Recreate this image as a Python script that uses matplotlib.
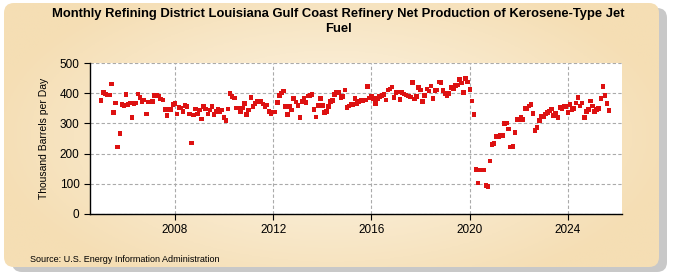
import numpy as np
import matplotlib.pyplot as plt
from matplotlib.patches import FancyBboxPatch

# monthly values, thousand barrels per day
y2005 = [376, 402, 398, 394, 395, 431, 336, 368, 222, 266, 362, 359]
y2006 = [396, 362, 368, 319, 366, 368, 398, 386, 372, 378, 332, 370]
y2007 = [370, 372, 392, 392, 391, 380, 378, 346, 326, 346, 346, 362]
y2008 = [366, 332, 352, 350, 339, 359, 356, 332, 236, 328, 348, 332]
y2009 = [345, 314, 356, 348, 332, 345, 356, 329, 339, 348, 340, 344]
y2010 = [319, 309, 348, 399, 389, 385, 350, 350, 337, 350, 366, 329]
y2011 = [345, 386, 356, 366, 374, 370, 374, 365, 356, 360, 340, 332]
y2012 = [338, 338, 369, 392, 401, 408, 356, 329, 356, 344, 382, 370]
y2013 = [359, 319, 372, 382, 369, 390, 392, 396, 346, 322, 359, 382]
y2014 = [359, 336, 339, 356, 372, 376, 396, 402, 402, 386, 389, 411]
y2015 = [352, 358, 362, 362, 382, 366, 372, 376, 374, 378, 422, 385]
y2016 = [389, 382, 366, 382, 389, 392, 396, 378, 411, 414, 421, 386]
y2017 = [402, 404, 379, 402, 398, 394, 391, 387, 436, 381, 389, 419]
y2018 = [411, 372, 392, 414, 408, 424, 382, 409, 411, 438, 436, 409]
y2019 = [399, 392, 399, 419, 415, 425, 427, 445, 434, 402, 449, 438]
y2020 = [412, 375, 330, 148, 102, 146, 146, 145, 95, 91, 175, 230]
y2021 = [233, 256, 256, 260, 260, 300, 302, 282, 221, 224, 270, 313]
y2022 = [313, 322, 313, 349, 349, 358, 362, 333, 276, 287, 309, 324]
y2023 = [322, 331, 336, 341, 347, 326, 333, 319, 352, 349, 356, 356]
y2024 = [336, 362, 346, 349, 368, 386, 358, 367, 320, 340, 346, 375]
y2025 = [358, 340, 346, 349, 382, 422, 392, 366, 343]

start_year = 2005
values = np.array(y2005 + y2006 + y2007 + y2008 + y2009 + y2010 + y2011 + y2012
                  + y2013 + y2014 + y2015 + y2016 + y2017 + y2018 + y2019 + y2020
                  + y2021 + y2022 + y2023 + y2024 + y2025)
dates = start_year + np.arange(len(values)) / 12.0

year_ticks = [2008, 2012, 2016, 2020, 2024]
y_ticks = [0, 100, 200, 300, 400, 500]

plt.rcParams['font.family'] = ['Liberation Sans', 'DejaVu Sans']

fig = plt.figure(figsize=(6.75, 2.75), dpi=100)
fig.patch.set_facecolor('white')

# background panel: beige gradient with rounded corners and a grey shadow
bg = fig.add_axes([0, 0, 1, 1], zorder=-10)
gx, gy = np.meshgrid(np.linspace(-1, 1, 200), np.linspace(-1, 1, 100))
grad = np.clip(np.sqrt(gx ** 2 * 0.9 + gy ** 2 * 0.6), 0, 1)
c_in = np.array([253, 246, 232]) / 255
c_out = np.array([245, 222, 180]) / 255
img = c_in + (c_out - c_in) * grad[..., None]
im = bg.imshow(img, extent=[4, 659, 267, 3], aspect='auto', zorder=2)
shadow = FancyBboxPatch((12, 8), 655, 264, boxstyle='round,pad=0,rounding_size=10',
                        facecolor='#c8c8c8', edgecolor='none', zorder=1)
bg.add_patch(shadow)
panel = FancyBboxPatch((4, 3), 655, 264, boxstyle='round,pad=0,rounding_size=10',
                       facecolor='none', edgecolor='none', zorder=3)
bg.add_patch(panel)
im.set_clip_path(panel)
bg.set_xlim(0, 675)
bg.set_ylim(275, 0)
bg.axis('off')

ax = fig.add_axes([90 / 675, 1 - 214 / 275, (622 - 90) / 675, (214 - 63) / 275])
ax.set_facecolor('white')
ax.scatter(dates, values, marker='s', s=10, color='#dd1111', edgecolors='none', zorder=3)

ax.set_xlim(2004.54, 2026.2)
ax.set_ylim(0, 500)
ax.set_xticks(year_ticks)
ax.set_yticks(y_ticks)
ax.grid(True, color='#aaaaaa', linestyle=(0, (3, 2)), linewidth=0.8)
ax.tick_params(labelsize=8.5, length=4, width=0.8, color='black')
for side in ['top', 'right']:
    ax.spines[side].set_visible(False)
for side in ['left', 'bottom']:
    ax.spines[side].set_linewidth(1.0)
ax.set_ylabel('Thousand Barrels per Day', fontsize=7.5, labelpad=8)

fig.text(338 / 675, 1 - 21.5 / 275,
         'Monthly Refining District Louisiana Gulf Coast Refinery Net Production of Kerosene-Type Jet\nFuel',
         ha='center', va='center', fontsize=9.4, fontweight='bold', linespacing=1.3)
fig.text(30 / 675, 1 - 259 / 275, 'Source: U.S. Energy Information Administration',
         ha='left', va='center', fontsize=6.5)

plt.savefig('out.png', dpi=100)
